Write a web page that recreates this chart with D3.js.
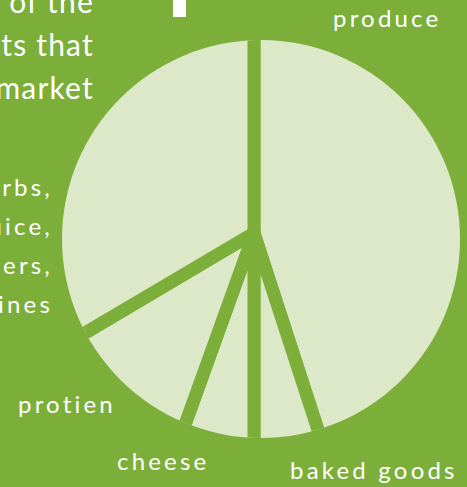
<!DOCTYPE html>
<html>
<head>
<meta charset="utf-8">
<script src="https://cdn.jsdelivr.net/npm/d3@7/dist/d3.min.js"></script>
<style>
  body { margin: 0; background: #7caf3a; overflow: hidden; }
</style>
</head>
<body>
<div id="chart"></div>
<script>
// slice data, clockwise from 12 o'clock
const categories = ["produce", "baked goods", "cheese", "protien", "herbs, juice, flowers, wines"];
const shares = [45, 5, 5.5, 11, 33.5];

// text blocks on the left (cut off by the slide edge)
const titleLines = ["Percentage of the", "products that", "come to the market"];
const herbLines = ["herbs,", "juice,", "flowers,", "wines"];

const width = 467;
const height = 487;
const green = "#7caf3a";
const light = "#dce8c8";

const svg = d3.select("#chart")
  .append("svg")
  .attr("width", width)
  .attr("height", height);

svg.append("rect")
  .attr("width", width)
  .attr("height", height)
  .attr("fill", green);

// circle outline of the pie
const rim = { x: 261, y: 239, r: 199 };
// point where the separators meet
const hub = { x: 254, y: 233 };

svg.append("clipPath")
  .attr("id", "pieClip")
  .append("circle")
  .attr("cx", rim.x)
  .attr("cy", rim.y)
  .attr("r", rim.r);

const pie = d3.pie().sort(null).value(d => d.v);
const slices = pie(categories.map((c, i) => ({ name: c, v: shares[i] })));

const arc = d3.arc().innerRadius(0).outerRadius(225);

svg.append("g")
  .attr("clip-path", "url(#pieClip)")
  .append("g")
  .attr("transform", `translate(${hub.x},${hub.y})`)
  .selectAll("path")
  .data(slices)
  .enter().append("path")
  .attr("d", arc)
  .attr("fill", light)
  .attr("stroke", green)
  .attr("stroke-width", 13)
  .attr("stroke-linejoin", "round");

// small white bar at the top (bit of a heading above)
svg.append("rect")
  .attr("x", 173)
  .attr("y", 0)
  .attr("width", 13)
  .attr("height", 17)
  .attr("fill", "#ffffff");

const font = "Lato, 'Open Sans', sans-serif";

// title lines
svg.selectAll(".title")
  .data(titleLines)
  .enter().append("text")
  .attr("class", "title")
  .attr("x", 94)
  .attr("y", (d, i) => 13 + i * 43)
  .attr("text-anchor", "end")
  .style("font-family", font)
  .style("font-size", "30px")
  .style("letter-spacing", "1.2px")
  .attr("fill", "#ffffff")
  .text(d => d);

// herbs label lines
svg.selectAll(".herbs")
  .data(herbLines)
  .enter().append("text")
  .attr("class", "herbs")
  .attr("x", 53)
  .attr("y", (d, i) => 196 + i * 39)
  .attr("text-anchor", "end")
  .style("font-family", font)
  .style("font-size", "24px")
  .style("letter-spacing", "3.2px")
  .attr("fill", "#ffffff")
  .text(d => d);

// other slice labels
const labelPos = [
  { x: 333, y: 27 },
  { x: 290, y: 479 },
  { x: 117, y: 470 },
  { x: 18, y: 413 }
];

svg.selectAll(".label")
  .data(categories.slice(0, 4))
  .enter().append("text")
  .attr("class", "label")
  .attr("x", (d, i) => labelPos[i].x)
  .attr("y", (d, i) => labelPos[i].y)
  .style("font-family", font)
  .style("font-size", "24px")
  .style("letter-spacing", "3.2px")
  .attr("fill", "#ffffff")
  .text(d => d);
</script>
</body>
</html>
